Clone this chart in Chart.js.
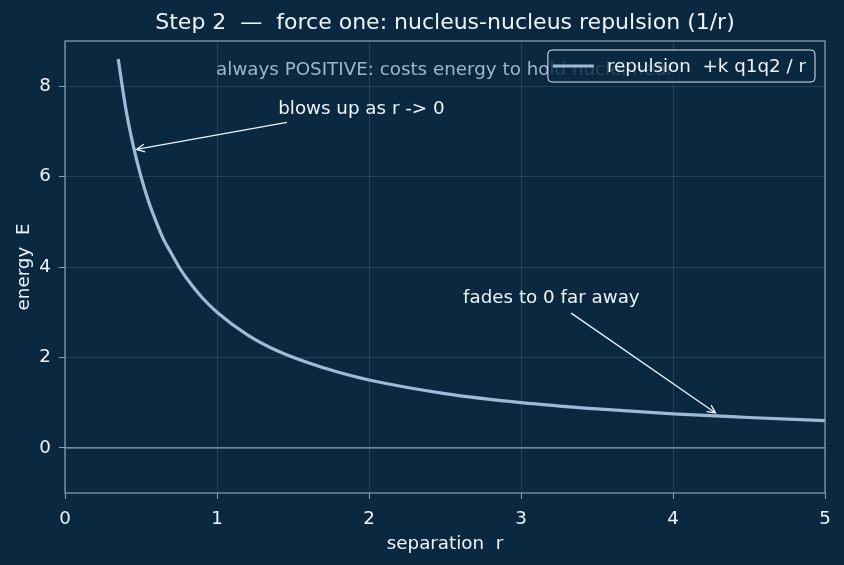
<!DOCTYPE html>
<html>
<head>
<meta charset="utf-8">
<script src="https://cdn.jsdelivr.net/npm/chart.js@4.4.1/dist/chart.umd.min.js"></script>
<style>
  html, body { margin: 0; padding: 0; background: #0b2841; }
  #wrap { width: 844px; height: 565px; }
</style>
</head>
<body>
<div id="wrap"><canvas id="chart-repulsion" width="844" height="565"></canvas></div>
<script>
// separation r and repulsion energy E
var rValues = [0.35, 0.4, 0.45, 0.5, 0.55, 0.6, 0.65, 0.7, 0.75, 0.8, 0.9, 1.0, 1.2, 1.4, 1.6, 1.8, 2.0, 2.5, 3.0, 3.5, 4.0, 4.5, 5.0];
var eValues = [8.6, 7.5, 6.67, 6.0, 5.45, 5.0, 4.6, 4.3, 4.0, 3.75, 3.33, 3.0, 2.5, 2.14, 1.88, 1.67, 1.5, 1.2, 1.0, 0.86, 0.75, 0.67, 0.6];
var xTicks = [0, 1, 2, 3, 4, 5];
var yTicks = [0, 2, 4, 6, 8];

var titleText = 'Step 2  \u2014  force one: nucleus-nucleus repulsion (1/r)';
var seriesLabel = 'repulsion  +k q1q2 / r';
var noteText = 'always POSITIVE: costs energy to hold nuclei near';
var noteAt = [2.5, 8.35];
var arrowNotes = [
  { text: 'blows up as r -> 0', textAt: [1.95, 7.5], from: [1.46, 7.2], to: [0.47, 6.6] },
  { text: 'fades to 0 far away', textAt: [3.2, 3.3], from: [3.33, 2.98], to: [4.28, 0.77] }
];

var fontFam = '"DejaVu Sans", Verdana, sans-serif';
var fs = 18.3;
var bg = '#0b2841';
var curveColor = '#9cbbd8';
var spineColor = '#8aa1b9';
var textColor = '#eef3f8';

function drawArrow(ctx, x1, y1, x2, y2) {
  var ang = Math.atan2(y2 - y1, x2 - x1);
  var hl = 9;
  ctx.beginPath();
  ctx.moveTo(x1, y1);
  ctx.lineTo(x2, y2);
  ctx.moveTo(x2 - hl * Math.cos(ang - 0.45), y2 - hl * Math.sin(ang - 0.45));
  ctx.lineTo(x2, y2);
  ctx.lineTo(x2 - hl * Math.cos(ang + 0.45), y2 - hl * Math.sin(ang + 0.45));
  ctx.stroke();
}

var decor = {
  id: 'decor',
  beforeDraw: function (chart) {
    var c = chart.ctx;
    c.save();
    c.fillStyle = bg;
    c.fillRect(0, 0, chart.width, chart.height);
    c.restore();
  },
  beforeDatasetsDraw: function (chart) {
    var c = chart.ctx, xs = chart.scales.x, ys = chart.scales.y, a = chart.chartArea;
    c.save();
    // zero line
    c.strokeStyle = spineColor;
    c.lineWidth = 1.3;
    c.beginPath();
    c.moveTo(a.left, ys.getPixelForValue(0));
    c.lineTo(a.right, ys.getPixelForValue(0));
    c.stroke();
    // faint note behind legend
    c.font = fs + 'px ' + fontFam;
    c.fillStyle = '#9fb6cd';
    c.textAlign = 'center';
    c.textBaseline = 'middle';
    c.fillText(noteText, xs.getPixelForValue(noteAt[0]), ys.getPixelForValue(noteAt[1]));
    c.restore();
  },
  afterDraw: function (chart) {
    var c = chart.ctx, xs = chart.scales.x, ys = chart.scales.y, a = chart.chartArea;
    c.save();
    // frame
    c.strokeStyle = spineColor;
    c.lineWidth = 1.2;
    c.strokeRect(a.left, a.top, a.right - a.left, a.bottom - a.top);

    // arrows + labels
    c.font = fs + 'px ' + fontFam;
    c.fillStyle = textColor;
    c.strokeStyle = textColor;
    c.lineWidth = 1.3;
    c.textAlign = 'center';
    c.textBaseline = 'middle';
    arrowNotes.forEach(function (n) {
      c.fillText(n.text, xs.getPixelForValue(n.textAt[0]), ys.getPixelForValue(n.textAt[1]));
      drawArrow(c, xs.getPixelForValue(n.from[0]), ys.getPixelForValue(n.from[1]),
                   xs.getPixelForValue(n.to[0]), ys.getPixelForValue(n.to[1]));
    });

    // legend box
    var tw = c.measureText(seriesLabel).width;
    var bw = tw + 68, bh = 32;
    var bx = a.right - 10 - bw, by = a.top + 9;
    c.fillStyle = 'rgba(11,40,65,0.8)';
    c.strokeStyle = '#dfe8f1';
    c.lineWidth = 1;
    c.beginPath();
    c.roundRect(bx, by, bw, bh, 4);
    c.fill();
    c.stroke();
    c.strokeStyle = curveColor;
    c.lineWidth = 3;
    c.beginPath();
    c.moveTo(bx + 5, by + bh / 2);
    c.lineTo(bx + 46, by + bh / 2);
    c.stroke();
    c.fillStyle = textColor;
    c.textAlign = 'left';
    c.fillText(seriesLabel, bx + 59, by + bh / 2 + 1);

    // title centred over plot
    c.font = '22px ' + fontFam;
    c.textAlign = 'center';
    c.fillText(titleText, (a.left + a.right) / 2, 23);
    c.restore();
  }
};

var points = rValues.map(function (r, i) { return { x: r, y: eValues[i] }; });

new Chart(document.getElementById('chart-repulsion').getContext('2d'), {
  type: 'line',
  data: {
    datasets: [{
      label: seriesLabel,
      data: points,
      borderColor: curveColor,
      backgroundColor: curveColor,
      borderWidth: 3.2,
      pointRadius: 0,
      fill: false,
      cubicInterpolationMode: 'monotone'
    }]
  },
  options: {
    responsive: false,
    animation: false,
    layout: { padding: { left: 0, right: 19, top: 41, bottom: 0 } },
    plugins: {
      legend: { display: false },
      title: { display: false },
      tooltip: { enabled: false }
    },
    scales: {
      x: {
        type: 'linear',
        min: 0, max: 5,
        afterBuildTicks: function (s) { s.ticks = xTicks.map(function (v) { return { value: v }; }); },
        afterFit: function (s) { s.height = 72; },
        grid: { color: 'rgba(150,175,200,0.18)', tickColor: spineColor, tickLength: 6 },
        border: { display: false },
        ticks: { color: textColor, font: { family: fontFam, size: fs }, padding: 9, maxRotation: 0 },
        title: { display: true, text: 'separation  r', color: textColor, font: { family: fontFam, size: fs }, padding: { top: 0, bottom: 10 } }
      },
      y: {
        type: 'linear',
        min: -1, max: 9,
        afterBuildTicks: function (s) { s.ticks = yTicks.map(function (v) { return { value: v }; }); },
        afterFit: function (s) { s.width = 65; },
        grid: { color: 'rgba(150,175,200,0.18)', tickColor: spineColor, tickLength: 6 },
        border: { display: false },
        ticks: { color: textColor, font: { family: fontFam, size: fs }, padding: 8 },
        title: { display: true, text: 'energy  E', color: textColor, font: { family: fontFam, size: fs }, padding: { top: 13, bottom: 0 } }
      }
    }
  },
  plugins: [decor]
});
</script>
</body>
</html>
